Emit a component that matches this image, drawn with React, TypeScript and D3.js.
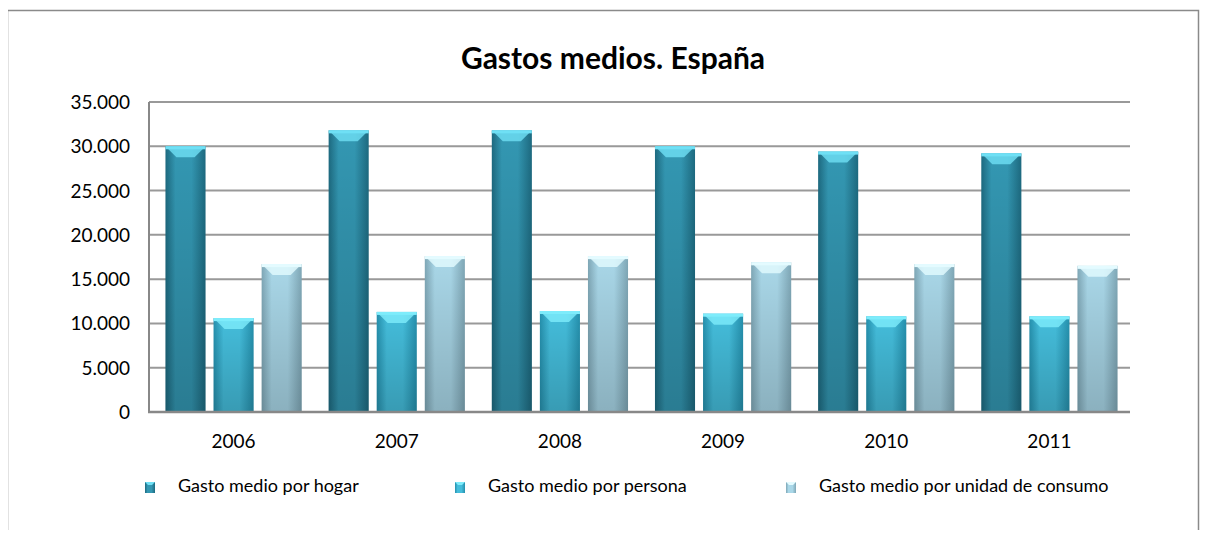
import React, { useRef, useEffect } from 'react';
import * as d3 from 'd3';

const years = ['2006', '2007', '2008', '2009', '2010', '2011'];
const seriesNames = ['Gasto medio por hogar', 'Gasto medio por persona', 'Gasto medio por unidad de consumo'];
const hogar = [30000, 31800, 31800, 30000, 29400, 29200];
const persona = [10600, 11300, 11400, 11100, 10800, 10800];
const unidad = [16700, 17600, 17600, 16900, 16700, 16500];
const yTicks = [0, 5000, 10000, 15000, 20000, 25000, 30000, 35000];

// colours per series: edge, mid, bevel
const palette = [
  { edge: '#1d6a80', mid: '#3397b2', top: '#6fe0f5' },
  { edge: '#2590ad', mid: '#44bddb', top: '#7eecfb' },
  { edge: '#7fa7b6', mid: '#a9d7e8', top: '#e4fbff' },
];

const App = () => {
  const chartRef = useRef(null);

  useEffect(() => {
    const container = d3.select(chartRef.current);
    container.selectAll('svg').remove();

    const width = 1209;
    const height = 538;
    const font = 'Lato, "Open Sans", sans-serif';

    const svg = container.append('svg')
      .attr('width', width)
      .attr('height', height)
      .style('display', 'block');

    svg.append('rect').attr('width', width).attr('height', height).attr('fill', '#fff');

    // outer frame
    svg.append('rect')
      .attr('x', 7.5).attr('y', 10.5)
      .attr('width', 1191).attr('height', 560)
      .attr('fill', 'none').attr('stroke', '#8a8a8a').attr('stroke-width', 1.5);

    const defs = svg.append('defs');
    palette.forEach((p, i) => {
      const g = defs.append('linearGradient').attr('id', `hg${i}`).attr('x1', 0).attr('x2', 1).attr('y1', 0).attr('y2', 0);
      g.append('stop').attr('offset', '0%').attr('stop-color', p.edge);
      g.append('stop').attr('offset', '25%').attr('stop-color', p.mid);
      g.append('stop').attr('offset', '65%').attr('stop-color', p.mid);
      g.append('stop').attr('offset', '100%').attr('stop-color', p.edge);
    });
    const vg = defs.append('linearGradient').attr('id', 'shade').attr('x1', 0).attr('x2', 0).attr('y1', 0).attr('y2', 1);
    vg.append('stop').attr('offset', '0%').attr('stop-color', '#000').attr('stop-opacity', 0);
    vg.append('stop').attr('offset', '100%').attr('stop-color', '#000').attr('stop-opacity', 0.18);

    const left = 149;
    const right = 1130;
    const top = 102;
    const bottom = 412;

    const x0 = d3.scaleBand().domain(years).range([left + 3, right + 1]);
    const x1 = d3.scaleBand().domain(['0', '1', '2']).range([0, x0.bandwidth()]).paddingInner(1 / 6).paddingOuter(0.28);
    const y = d3.scaleLinear().domain([0, 35000]).range([bottom, top]);

    // gridlines
    svg.append('g').selectAll('line').data(yTicks.filter(t => t > 0)).enter().append('line')
      .attr('x1', left).attr('x2', right)
      .attr('y1', d => y(d)).attr('y2', d => y(d))
      .attr('stroke', '#999').attr('stroke-width', 2);

    // y tick labels
    const fmt = (v: number) => v === 0 ? '0' : d3.format(',')(v).replace(/,/g, '.');
    svg.append('g').selectAll('text').data(yTicks).enter().append('text')
      .attr('x', 130).attr('y', d => y(d) + 7)
      .attr('text-anchor', 'end')
      .attr('font-family', font).attr('font-size', 19).attr('fill', '#000')
      .text(d => fmt(d));

    const series = [hogar, persona, unidad];
    const bars = svg.append('g');
    years.forEach((yr, yi) => {
      series.forEach((vals, si) => {
        const bx = (x0(yr) as number) + (x1(String(si)) as number);
        const bw = x1.bandwidth();
        const by = y(vals[yi]);
        const bh = bottom - by;
        const g = bars.append('g');
        g.append('rect').attr('x', bx).attr('y', by).attr('width', bw).attr('height', bh).attr('fill', `url(#hg${si})`);
        g.append('rect').attr('x', bx).attr('y', by).attr('width', bw).attr('height', bh).attr('fill', 'url(#shade)');
        const bev = 11;
        g.append('path')
          .attr('d', `M${bx},${by}L${bx + bw},${by}L${bx + bw - bev},${by + bev}L${bx + bev},${by + bev}Z`)
          .attr('fill', palette[si].top).attr('opacity', 0.8);
        g.append('rect').attr('x', bx).attr('y', by).attr('width', bw).attr('height', 3)
          .attr('fill', palette[si].top);
      });
    });

    // axes lines
    svg.append('line').attr('x1', left).attr('x2', left).attr('y1', top).attr('y2', bottom)
      .attr('stroke', '#888').attr('stroke-width', 2);
    svg.append('line').attr('x1', left - 1).attr('x2', right).attr('y1', bottom).attr('y2', bottom)
      .attr('stroke', '#888').attr('stroke-width', 2.5);

    // x labels
    svg.append('g').selectAll('text').data(years).enter().append('text')
      .attr('x', d => (x0(d) as number) + x0.bandwidth() / 2)
      .attr('y', 448)
      .attr('text-anchor', 'middle')
      .attr('font-family', font).attr('font-size', 19).attr('fill', '#000')
      .text(d => d);

    // title
    svg.append('text')
      .attr('x', 613).attr('y', 69)
      .attr('text-anchor', 'middle')
      .attr('font-family', font).attr('font-size', 30).attr('font-weight', 'bold').attr('fill', '#000')
      .text('Gastos medios. España');

    // legend
    const legendX = [145, 455, 786];
    const lg = svg.append('g');
    seriesNames.forEach((name, i) => {
      const lx = legendX[i];
      lg.append('rect').attr('x', lx).attr('y', 482).attr('width', 10).attr('height', 11).attr('fill', `url(#hg${i})`);
      lg.append('path').attr('d', `M${lx},482L${lx + 10},482L${lx + 7},485L${lx + 3},485Z`).attr('fill', palette[i].top);
      lg.append('text')
        .attr('x', lx + 33).attr('y', 492)
        .attr('font-family', font).attr('font-size', 18).attr('fill', '#000')
        .text(name);
    });
  }, []);

  return <div ref={chartRef} style={{ margin: -8 }}></div>;
};

export default App;
